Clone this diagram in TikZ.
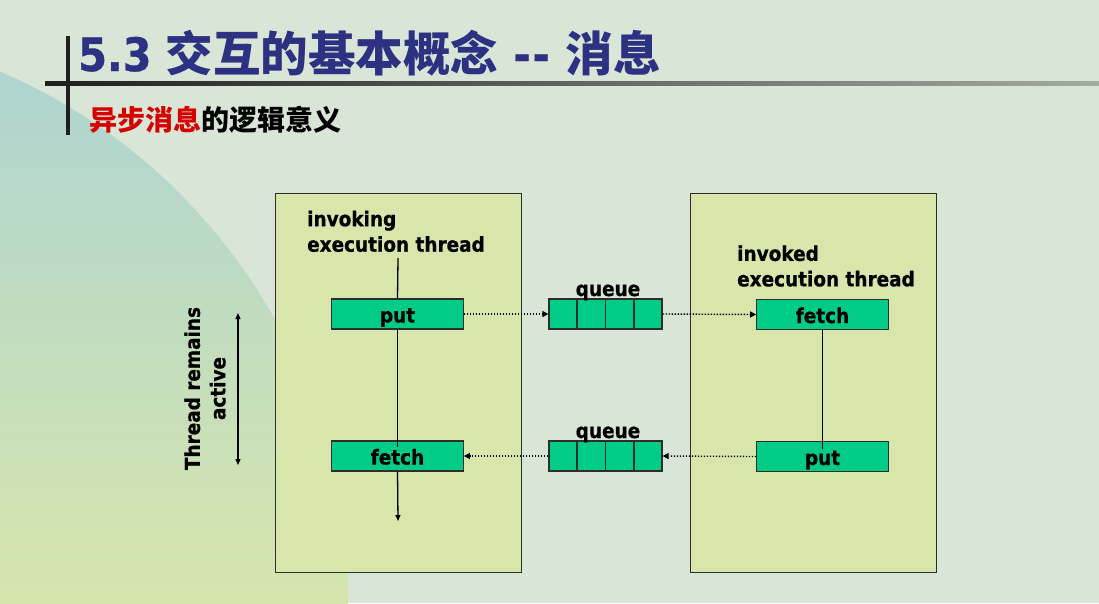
\documentclass[tikz,border=0pt]{standalone}
\usepackage{fontspec}
\setmainfont{DejaVu Sans}[FakeStretch=0.9, BoldFeatures={FakeBold=0.8}]
\newfontfamily\cjkfont{Noto Sans CJK SC}
\usetikzlibrary{arrows.meta,calc}
\definecolor{bg}{RGB}{217,229,214}
\definecolor{tealc}{RGB}{170,211,212}
\definecolor{midc}{RGB}{192,222,200}
\definecolor{yelc}{RGB}{214,229,172}
\definecolor{boxfill}{RGB}{216,230,171}
\definecolor{greenfill}{RGB}{0,204,136}
\definecolor{titleblue}{RGB}{45,49,130}
\definecolor{subred}{RGB}{214,0,0}
\definecolor{edge}{RGB}{45,45,45}
\tikzset{
  lbl/.style={font=\fontsize{20.5}{25.5}\selectfont\bfseries, inner sep=0pt, align=left},
  bigbox/.style={draw=edge, line width=1.2pt, fill=boxfill, inner sep=0pt, anchor=north west},
  greenbox/.style={draw=edge, line width=1.2pt, fill=greenfill, minimum width=131.5pt, minimum height=30pt, inner sep=0pt, text height=17pt, text depth=0pt, font=\fontsize{20.5}{24}\selectfont\bfseries},
  queuebox/.style={draw=edge, line width=1.2pt, fill=greenfill, minimum width=113pt, minimum height=30pt, inner sep=0pt},
  conn/.style={line width=1.3pt, black},
  dotconn/.style={line width=1.4pt, black, dash pattern=on 1.4pt off 1.6pt, -{Triangle[length=6pt,width=6pt]}},
  tip/.style={-{Triangle[length=6pt,width=5pt]}}
}
\begin{document}
\begin{tikzpicture}[x=1pt,y=-1pt]
\useasboundingbox (0,0) rectangle (1099,603);
\fill[bg] (0,0) rectangle (1099,603);
\begin{scope}
  \clip (-227,600) circle (575);
  \shade[top color=tealc, middle color=midc, bottom color=yelc] (0,20) rectangle (380,603);
\end{scope}
% header rules
\shade[left color=black!88, right color=black!25!bg] (45,81.5) rectangle (1099,85.5);
\fill[black!88] (66,36) rectangle (70,135);
% title
\node[anchor=base west, inner sep=0pt, text=titleblue, font=\fontsize{46}{50}\selectfont\bfseries] (title) at (78,71)
  {5.3 {\cjkfont\fontsize{47.5}{50}\selectfont 交互的基本概念}\hspace{15pt}-\hspace{2pt}-\hspace{16pt}{\cjkfont\fontsize{47.5}{50}\selectfont 消息}};
\node[anchor=base west, inner sep=0pt, font=\fontsize{28}{32}\selectfont\bfseries\cjkfont] (subtitle) at (89,130)
  {\textcolor{subred}{异步消息}的逻辑意义};
% big boxes
\node[bigbox, minimum width=245.5pt, minimum height=378.5pt] (L) at (275,193) {};
\node[bigbox, minimum width=246pt, minimum height=378.5pt] (R) at (690,193) {};
% labels
\node[lbl, anchor=north west] (inv) at (307,210.4) {invoking\\execution thread};
\node[lbl, anchor=north west] (invd) at (737,245.1) {invoked\\execution thread};
\coordinate (l0) at (398,258);
% green boxes
\node[greenbox] (put1) at (397.5,314) {put};
\node[greenbox] (fetch1) at (397.5,456) {fetch};
\node[greenbox] (fetch2) at (822.5,314.5) {fetch};
\node[greenbox] (put2) at (822.5,456.5) {put};
% queues
\node[queuebox] (q1) at (605.5,314) {};
\node[queuebox] (q2) at (605.5,456) {};
\foreach \q in {q1,q2}{
  \foreach \i in {1,2,3}{
    \draw[edge, line width=1.2pt] ($(\q.north west)!\i/4!(\q.north east)$) -- ($(\q.south west)!\i/4!(\q.south east)$);
  }
}
\node[font=\fontsize{20.5}{24}\selectfont\bfseries, inner sep=0pt, anchor=base] (q1lbl) at (608,296) {queue};
\node[font=\fontsize{20.5}{24}\selectfont\bfseries, inner sep=0pt, anchor=base] (q2lbl) at (608,438) {queue};
% connectors
\draw[conn] (l0) -- (put1.north);
\draw[conn] (put1.south) -- ($(fetch1.north)+(0,7)$);
\draw[conn, tip] (fetch1.south) -- (398,521);
\draw[conn] (fetch2.south) -- ($(put2.north)+(0,8)$);
\draw[dotconn] (put1.east) -- (q1.west);
\draw[dotconn] (q1.east) -- (fetch2.west);
\draw[dotconn] (put2.west) -- (q2.east);
\draw[dotconn] (q2.west) -- (fetch1.east);
% thread remains active
\coordinate (a1) at (238,313);
\coordinate (a2) at (238,465);
\draw[line width=1.3pt, {Triangle[length=6pt,width=5pt]}-{Triangle[length=6pt,width=5pt]}] (a1) -- (a2);
\node[lbl, align=center, rotate=90] (act) at (205,388.5) {Thread remains\\active};
\end{tikzpicture}
\end{document}
